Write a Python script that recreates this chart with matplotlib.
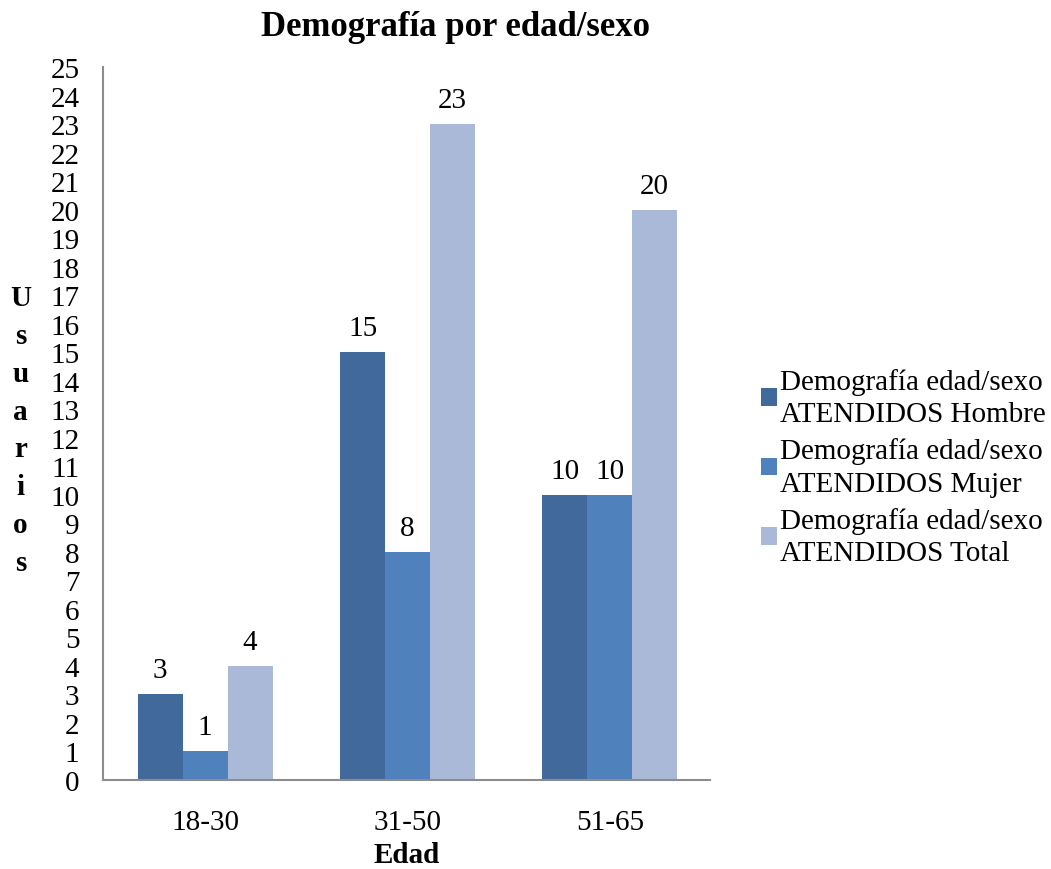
import matplotlib
matplotlib.use("Agg")
import matplotlib.pyplot as plt
import numpy as np

categories = ["18-30", "31-50", "51-65"]
series_names = ["Demografía edad/sexo\nATENDIDOS Hombre",
                "Demografía edad/sexo\nATENDIDOS Mujer",
                "Demografía edad/sexo\nATENDIDOS Total"]
hombre = [3, 15, 10]
mujer = [1, 8, 10]
total = [4, 23, 20]
colors = ["#41699C", "#4F81BD", "#AAB9D7"]
yticks = list(range(0, 26))

plt.rcParams['font.family'] = ['Liberation Serif', 'DejaVu Serif']

fig = plt.figure(figsize=(10.51, 8.70), dpi=100)
ax = fig.add_axes([0.098, 0.1023, 0.5775, 0.8195])

x = np.arange(len(categories))
w = 0.222
for i, (vals, name, c) in enumerate(zip([hombre, mujer, total], series_names, colors)):
    bars = ax.bar(x + (i - 1) * w, vals, width=w, color=c, label=name, edgecolor='none')
    for b, v in zip(bars, vals):
        ax.annotate(str(v), (b.get_x() + b.get_width() / 2, v), xytext=(0, 8),
                    textcoords='offset points', ha='center', va='bottom', fontsize=21)

ax.set_xlim(-0.505, 2.495)
ax.set_ylim(0, 25)
ax.set_yticks(yticks)
ax.set_xticks(x)
ax.set_xticklabels(categories)
ax.tick_params(axis='y', length=0, pad=17, labelsize=21)
ax.tick_params(axis='x', length=0, pad=21, labelsize=21)
for s in ['top', 'right']:
    ax.spines[s].set_visible(False)
for s in ['left', 'bottom']:
    ax.spines[s].set_color('#8C8C8C')
    ax.spines[s].set_linewidth(1.5)

fig.text(0.387, 1 - 856 / 870, "Edad", fontsize=21, fontweight='bold',
         ha='center', va='center')
fig.text(0.0195, 1 - 431 / 870, "\n".join("Usuarios"), fontsize=21, fontweight='bold',
         ha='center', va='center', linespacing=1.52)
fig.text(0.433, 1 - 28 / 870, "Demografía por edad/sexo", fontsize=25, fontweight='bold',
         ha='center', va='center')

leg = fig.legend(loc='center left', bbox_to_anchor=(0.724, 1 - 468 / 870), frameon=False,
                 fontsize=21, handlelength=0.55, handleheight=0.55, handletextpad=0.1,
                 labelspacing=0.35, borderpad=0, borderaxespad=0)
for t in leg.get_texts():
    t.set_linespacing(1.32)

fig.savefig("out.png", dpi=100)
